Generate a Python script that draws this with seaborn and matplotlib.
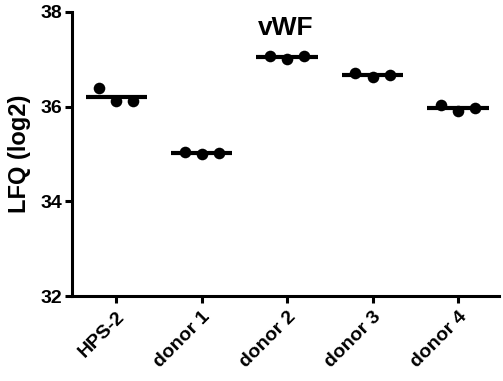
import pandas as pd
import matplotlib.pyplot as plt
import seaborn as sns

sns.set_theme(style='ticks')
plt.rcParams['font.family'] = ['Liberation Sans', 'DejaVu Sans']
plt.rcParams['font.weight'] = 'bold'
plt.rcParams['text.color'] = 'black'
plt.rcParams['axes.labelcolor'] = 'black'
plt.rcParams['xtick.color'] = 'black'
plt.rcParams['ytick.color'] = 'black'

groups = ['HPS-2', 'donor 1', 'donor 2', 'donor 3', 'donor 4']
rep1 = [36.39, 35.04, 37.07, 36.71, 36.03]
rep2 = [36.12, 35.00, 37.00, 36.63, 35.91]
rep3 = [36.12, 35.02, 37.07, 36.67, 35.97]
yticks = [32, 34, 36, 38]

df = pd.DataFrame({'group': groups * 3,
                   'rep': [0] * 5 + [1] * 5 + [2] * 5,
                   'value': rep1 + rep2 + rep3})
offsets = {0: -0.2, 1: 0.0, 2: 0.2}
df['xpos'] = df['group'].map({g: i for i, g in enumerate(groups)}) + df['rep'].map(offsets)

fig = plt.figure(figsize=(5.03, 3.81), dpi=100)
ax = fig.add_axes([0.143, 0.223, 0.849, 0.746])

sns.scatterplot(data=df, x='xpos', y='value', color='black', s=70,
                edgecolor='black', linewidth=0, ax=ax, zorder=3)

means = df.groupby('group', sort=False)['value'].mean()
for i, g in enumerate(groups):
    ax.hlines(means[g], i - 0.36, i + 0.36, color='black', linewidth=3, zorder=2)

ax.set_xlim(-0.52, 4.48)
ax.set_ylim(32, 38)
ax.set_yticks(yticks)
ax.set_xticks(range(len(groups)))
ax.set_xticklabels(groups, rotation=45, ha='right', rotation_mode='anchor',
                   fontsize=14, fontweight='bold')
ax.set_yticklabels([str(t) for t in yticks], fontsize=14, fontweight='bold')
ax.tick_params(axis='both', width=2.2, length=5, color='black', pad=2)
ax.tick_params(axis='x', pad=4)

for side in ['left', 'bottom']:
    ax.spines[side].set_linewidth(2.2)
    ax.spines[side].set_color('black')
sns.despine(ax=ax)

ax.set_xlabel('')
ax.set_ylabel('LFQ (log2)', fontsize=17, fontweight='bold', labelpad=7)
ax.text(0.5, 0.985, 'vWF', transform=ax.transAxes, ha='center', va='top',
        fontsize=19, fontweight='bold')

fig.savefig('out.png', dpi=100)
